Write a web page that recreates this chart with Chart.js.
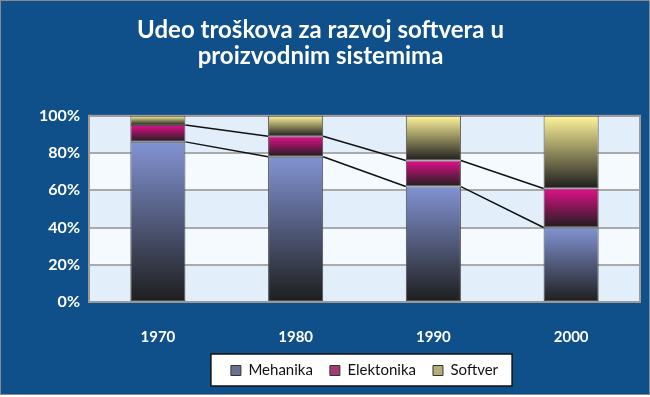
<!DOCTYPE html>
<html>
<head>
<meta charset="utf-8">
<script src="https://cdn.jsdelivr.net/npm/chart.js@4"></script>
<style>
  body { margin: 0; background: #fff; }
  #wrap { width: 648px; height: 393px; border: 1px solid #8a8a8a; background: #0f508a; }
  canvas { display: block; }
</style>
</head>
<body>
<div id="wrap"><canvas id="costChart" width="648" height="393"></canvas></div>
<script>
const years = ['1970', '1980', '1990', '2000'];
const mehanika = [86, 78, 62, 40];
const elektronika = [9, 11, 14, 21];
const softver = [5, 11, 24, 39];
const yTicks = [0, 20, 40, 60, 80, 100];

const FONT = 'Lato, "Open Sans", sans-serif';

// vertical gradient per stacked segment: colour on top, dark at the bottom
function segGradient(topColor, series, below) {
  return (ctx) => {
    const chart = ctx.chart;
    const y = chart.scales.y;
    if (!chart.chartArea || !y || ctx.dataIndex === undefined) return topColor;
    const i = ctx.dataIndex;
    const base = below.reduce((s, a) => s + a[i], 0);
    const y0 = y.getPixelForValue(base + series[i]);
    const y1 = y.getPixelForValue(base);
    const g = chart.ctx.createLinearGradient(0, y0, 0, y1);
    g.addColorStop(0, topColor);
    g.addColorStop(1, '#1e1e1e');
    return g;
  };
}

const bandsPlugin = {
  id: 'bands',
  beforeDraw(chart) {
    const { ctx, chartArea: a, scales: { y } } = chart;
    ctx.save();
    for (let k = 0; k < yTicks.length - 1; k++) {
      const t = y.getPixelForValue(yTicks[k + 1]);
      const b = y.getPixelForValue(yTicks[k]);
      ctx.fillStyle = k % 2 === 0 ? '#e2effa' : '#f5faff';
      ctx.fillRect(a.left, t, a.right - a.left, b - t);
    }
    // white legend box
    const boxes = chart.legend && chart.legend.legendHitBoxes;
    if (boxes && boxes.length) {
      const l = Math.min(...boxes.map(h => h.left)) - 20;
      const r = Math.max(...boxes.map(h => h.left + h.width)) + 14;
      const top = Math.min(...boxes.map(h => h.top)) - 9;
      const bot = Math.max(...boxes.map(h => h.top + h.height)) + 8;
      ctx.fillStyle = '#ffffff';
      ctx.fillRect(l, top, r - l, bot - top);
      ctx.strokeStyle = '#111';
      ctx.lineWidth = 1.5;
      ctx.strokeRect(l, top, r - l, bot - top);
    }
    ctx.restore();
  },
  beforeDatasetsDraw(chart) {
    const { ctx, chartArea: a } = chart;
    ctx.save();
    ctx.strokeStyle = '#9a9a9a';
    ctx.lineWidth = 2;
    ctx.strokeRect(a.left, a.top, a.right - a.left, a.bottom - a.top);
    ctx.restore();
  }
};

// series lines joining the segment tops between bars
const seriesLines = {
  id: 'seriesLines',
  afterDatasetsDraw(chart) {
    const { ctx, scales: { y } } = chart;
    const meta = chart.getDatasetMeta(0);
    const levels = [mehanika, mehanika.map((v, i) => v + elektronika[i])];
    ctx.save();
    ctx.strokeStyle = '#111';
    ctx.lineWidth = 1.5;
    levels.forEach(lv => {
      for (let i = 0; i < lv.length - 1; i++) {
        const b0 = meta.data[i], b1 = meta.data[i + 1];
        ctx.beginPath();
        ctx.moveTo(b0.x + b0.width / 2, y.getPixelForValue(lv[i]));
        ctx.lineTo(b1.x - b1.width / 2, y.getPixelForValue(lv[i + 1]));
        ctx.stroke();
      }
    });
    ctx.restore();
  }
};

const legendColors = ['#6b7090', '#a33a72', '#b3ad78'];

new Chart(document.getElementById('costChart'), {
  type: 'bar',
  data: {
    labels: years,
    datasets: [
      { label: 'Mehanika', data: mehanika, backgroundColor: segGradient('#8293d3', mehanika, []) },
      { label: 'Elektonika', data: elektronika, backgroundColor: segGradient('#e2108a', elektronika, [mehanika]) },
      { label: 'Softver', data: softver, backgroundColor: segGradient('#fff59a', softver, [mehanika, elektronika]) }
    ]
  },
  options: {
    responsive: false,
    animation: false,
    layout: { padding: { left: 0, right: 9, top: 0, bottom: 6 } },
    datasets: {
      bar: {
        barPercentage: 0.8,
        categoryPercentage: 0.5,
        borderColor: '#505050',
        borderWidth: 1,
        borderSkipped: false
      }
    },
    scales: {
      x: {
        stacked: true,
        grid: { display: false },
        border: { display: false },
        ticks: { color: '#fff', font: { family: FONT, size: 15, weight: 'bold' }, padding: 18 },
        afterFit: (s) => { s.height = 44; }
      },
      y: {
        stacked: true,
        min: 0,
        max: 100,
        afterBuildTicks: (s) => { s.ticks = yTicks.map(v => ({ value: v })); },
        grid: { color: '#aaaaaa', lineWidth: 2, drawTicks: false },
        border: { display: false },
        ticks: {
          color: '#fff',
          font: { family: FONT, size: 16, weight: 'bold' },
          padding: 9,
          callback: (v) => v + '%'
        },
        afterFit: (s) => { s.width = 88; }
      }
    },
    plugins: {
      title: {
        display: true,
        text: ['Udeo troškova za razvoj softvera u', 'proizvodnim sistemima'],
        color: '#fff',
        font: { family: FONT, size: 24, weight: 'bold', lineHeight: 1.1 },
        padding: { top: 16, bottom: 46 }
      },
      legend: {
        position: 'bottom',
        fullSize: false,
        labels: {
          color: '#111',
          font: { family: FONT, size: 15 },
          boxWidth: 10,
          boxHeight: 10,
          padding: 17,
          generateLabels: (chart) => chart.data.datasets.map((d, i) => ({
            text: d.label,
            fillStyle: legendColors[i],
            strokeStyle: '#333',
            lineWidth: 1,
            fontColor: '#111',
            datasetIndex: i
          }))
        }
      },
      tooltip: { enabled: false }
    }
  },
  plugins: [bandsPlugin, seriesLines]
});
</script>
</body>
</html>
